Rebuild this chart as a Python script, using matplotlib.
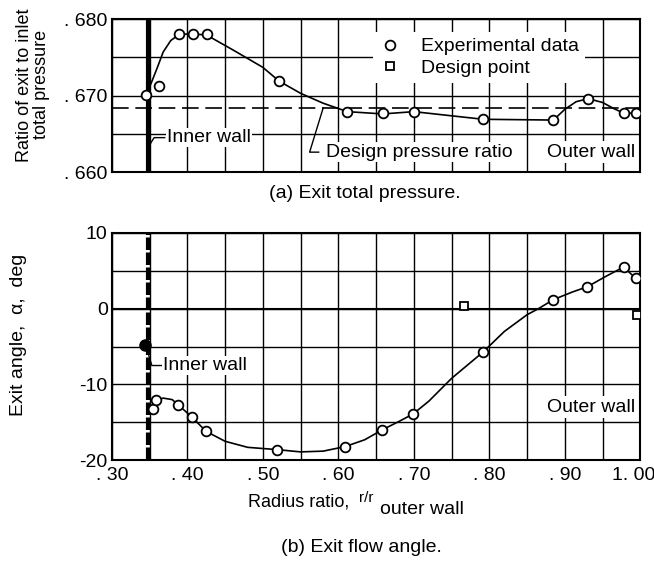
import numpy as np
import matplotlib.pyplot as plt
from matplotlib.ticker import MultipleLocator
from matplotlib.transforms import ScaledTranslation

plt.rcParams['font.family'] = ['Liberation Sans', 'DejaVu Sans']

# (a) exit total pressure
pa_x = [0.345, 0.362, 0.389, 0.407, 0.426, 0.5215, 0.612, 0.659, 0.700, 0.792, 0.885, 0.931, 0.978, 0.994]
pa_y = [0.6701, 0.6712, 0.6780, 0.6780, 0.6780, 0.6719, 0.6679, 0.6677, 0.6679, 0.6669, 0.6668, 0.6696, 0.6677, 0.6677]
pa_curve_x = [0.345, 0.352, 0.36, 0.368, 0.378, 0.389, 0.407, 0.426, 0.46, 0.50, 0.5215, 0.55, 0.58, 0.612,
              0.659, 0.700, 0.792, 0.885, 0.90, 0.915, 0.931, 0.95, 0.965, 0.978, 0.994]
pa_curve_y = [0.6701, 0.6716, 0.6736, 0.6757, 0.6772, 0.6780, 0.6781, 0.6779, 0.6760, 0.6737, 0.6719, 0.6703,
              0.6690, 0.6679, 0.6676, 0.6679, 0.6669, 0.6668, 0.6682, 0.6692, 0.6696, 0.6691, 0.6683, 0.6677, 0.6677]
design_ratio = 0.6684

# (b) exit flow angle
ang_x = [0.354, 0.358, 0.388, 0.406, 0.425, 0.519, 0.609, 0.658, 0.699, 0.792, 0.885, 0.930, 0.978, 0.994]
ang_y = [-13.2, -12.1, -12.7, -14.3, -16.2, -18.6, -18.2, -16.0, -13.9, -5.7, 1.2, 2.8, 5.5, 4.0]
ang_curve_x = [0.358, 0.368, 0.38, 0.388, 0.406, 0.425, 0.45, 0.48, 0.519, 0.55, 0.58, 0.609, 0.635, 0.658,
               0.68, 0.699, 0.72, 0.75, 0.792, 0.82, 0.85, 0.865, 0.885, 0.91, 0.930, 0.955, 0.978, 0.994]
ang_curve_y = [-12.1, -11.8, -12.0, -12.7, -14.3, -16.2, -17.5, -18.3, -18.6, -18.9, -18.8, -18.2, -17.3, -16.0,
               -14.9, -13.9, -12.2, -9.2, -5.7, -3.0, -0.8, 0.0, 1.2, 2.2, 2.9, 4.3, 5.5, 4.0]
design_x = [0.766, 0.996]
design_y = [0.4, -0.8]
wall_x = 0.348
wall_pt_y = -4.8

FS = 14

fig = plt.figure(figsize=(6.54, 5.64), dpi=100)
ax1 = fig.add_axes([0.171, 0.695, 0.808, 0.271])
ax2 = fig.add_axes([0.171, 0.184, 0.808, 0.403])

for ax in (ax1, ax2):
    ax.set_xlim(0.30, 1.00)
    ax.xaxis.set_major_locator(MultipleLocator(0.1))
    ax.xaxis.set_minor_locator(MultipleLocator(0.05))
    ax.grid(True, which='both', color='black', lw=1.0)
    ax.tick_params(which='both', length=0, labelsize=FS, pad=3)
    for s in ax.spines.values():
        s.set_linewidth(1.5)
    ax.set_axisbelow(True)

# top panel
ax1.set_ylim(0.660, 0.680)
ax1.set_yticks([0.660, 0.670, 0.680])
ax1.set_yticklabels(['. 660', '. 670', '. 680'])
ax1.yaxis.set_minor_locator(MultipleLocator(0.005))
ax1.set_xticklabels([])
ax1.axvline(wall_x, color='black', lw=3)
ax1.axhline(design_ratio, color='black', lw=1.2, ls=(0, (10, 4)))
ax1.plot(pa_curve_x, pa_curve_y, color='black', lw=1.2, zorder=3)
ax1.plot(pa_x, pa_y, 'o', ms=7, mfc='white', mec='black', mew=1.3, zorder=4,
         label='Experimental data')
ax1.plot([], [], 's', ms=6, mfc='white', mec='black', mew=1.3, label='Design point')
leg = ax1.legend(loc='upper left', bbox_to_anchor=(0.475, 0.98), fontsize=FS, frameon=True,
                 fancybox=False, edgecolor='none', framealpha=1, handletextpad=1.0,
                 labelspacing=0.2, borderpad=0.3, handlelength=1.2)
ax1.plot([0.351, 0.356, 0.370], [0.6637, 0.6645, 0.6645], color='black', lw=1)
ax1.text(0.373, 0.6645, 'Inner wall', fontsize=FS, va='center', ha='left',
         bbox=dict(facecolor='white', edgecolor='none', pad=1))
ax1.plot([0.580, 0.562, 0.574], [design_ratio, 0.6626, 0.6626], color='black', lw=1)
ax1.text(0.584, 0.6626, 'Design pressure ratio', fontsize=FS, va='center', ha='left',
         bbox=dict(facecolor='white', edgecolor='none', pad=1))
ax1.text(0.993, 0.6626, 'Outer wall', fontsize=FS, va='center', ha='right',
         bbox=dict(facecolor='white', edgecolor='none', pad=2))
ax1.set_ylabel('Ratio of exit to inlet\ntotal pressure', fontsize=13, linespacing=1.0)
ax1.yaxis.set_label_coords(-0.117, 0.57)

# bottom panel
ax2.set_ylim(-20, 10)
ax2.set_yticks([-20, -10, 0, 10])
ax2.set_yticklabels(['-20', '-10', '0', '10'])
ax2.yaxis.set_minor_locator(MultipleLocator(5))
ax2.set_xticks([0.3, 0.4, 0.5, 0.6, 0.7, 0.8, 0.9, 1.0])
ax2.set_xticklabels(['. 30', '. 40', '. 50', '. 60', '. 70', '. 80', '. 90', '1. 00'])
ax2.tick_params(axis='x', pad=5)
last = ax2.get_xticklabels()[-1]
last.set_transform(last.get_transform() + ScaledTranslation(-0.07, 0, fig.dpi_scale_trans))
ax2.axhline(0, color='black', lw=1.5)
ax2.axvline(wall_x, color='black', lw=3, ls=(0, (3, 0.6)))
ax2.plot([wall_x - 0.004], [wall_pt_y], 'o', ms=8, color='black', zorder=5)
ax2.plot(ang_curve_x, ang_curve_y, color='black', lw=1.2, zorder=3)
ax2.plot(ang_x, ang_y, 'o', ms=7, mfc='white', mec='black', mew=1.3, zorder=4)
ax2.plot(design_x, design_y, 's', ms=6, mfc='white', mec='black', mew=1.3, zorder=4)
ax2.plot([0.349, 0.353, 0.366], [-6.2, -7.5, -7.5], color='black', lw=1)
ax2.text(0.368, -7.5, 'Inner wall', fontsize=FS, va='center', ha='left',
         bbox=dict(facecolor='white', edgecolor='none', pad=1))
ax2.text(0.993, -13.0, 'Outer wall', fontsize=FS, va='center', ha='right',
         bbox=dict(facecolor='white', edgecolor='none', pad=2))
ax2.set_ylabel('Exit angle,  \u03b1,  deg', fontsize=FS)
ax2.yaxis.set_label_coords(-0.161, 0.55)

fig.text(0.379, 0.110, 'Radius ratio,', fontsize=13, ha='left', va='center')
fig.text(0.549, 0.117, 'r/r', fontsize=FS - 3, ha='left', va='center')
fig.text(0.581, 0.097, 'outer wall', fontsize=FS, ha='left', va='center')

fig.text(0.558, 1 - 193 / 564, '(a) Exit total pressure.', fontsize=FS, ha='center', va='center')
fig.text(0.552, 1 - 548 / 564, '(b) Exit flow angle.', fontsize=FS, ha='center', va='center')

fig.savefig('out.png', dpi=100)
